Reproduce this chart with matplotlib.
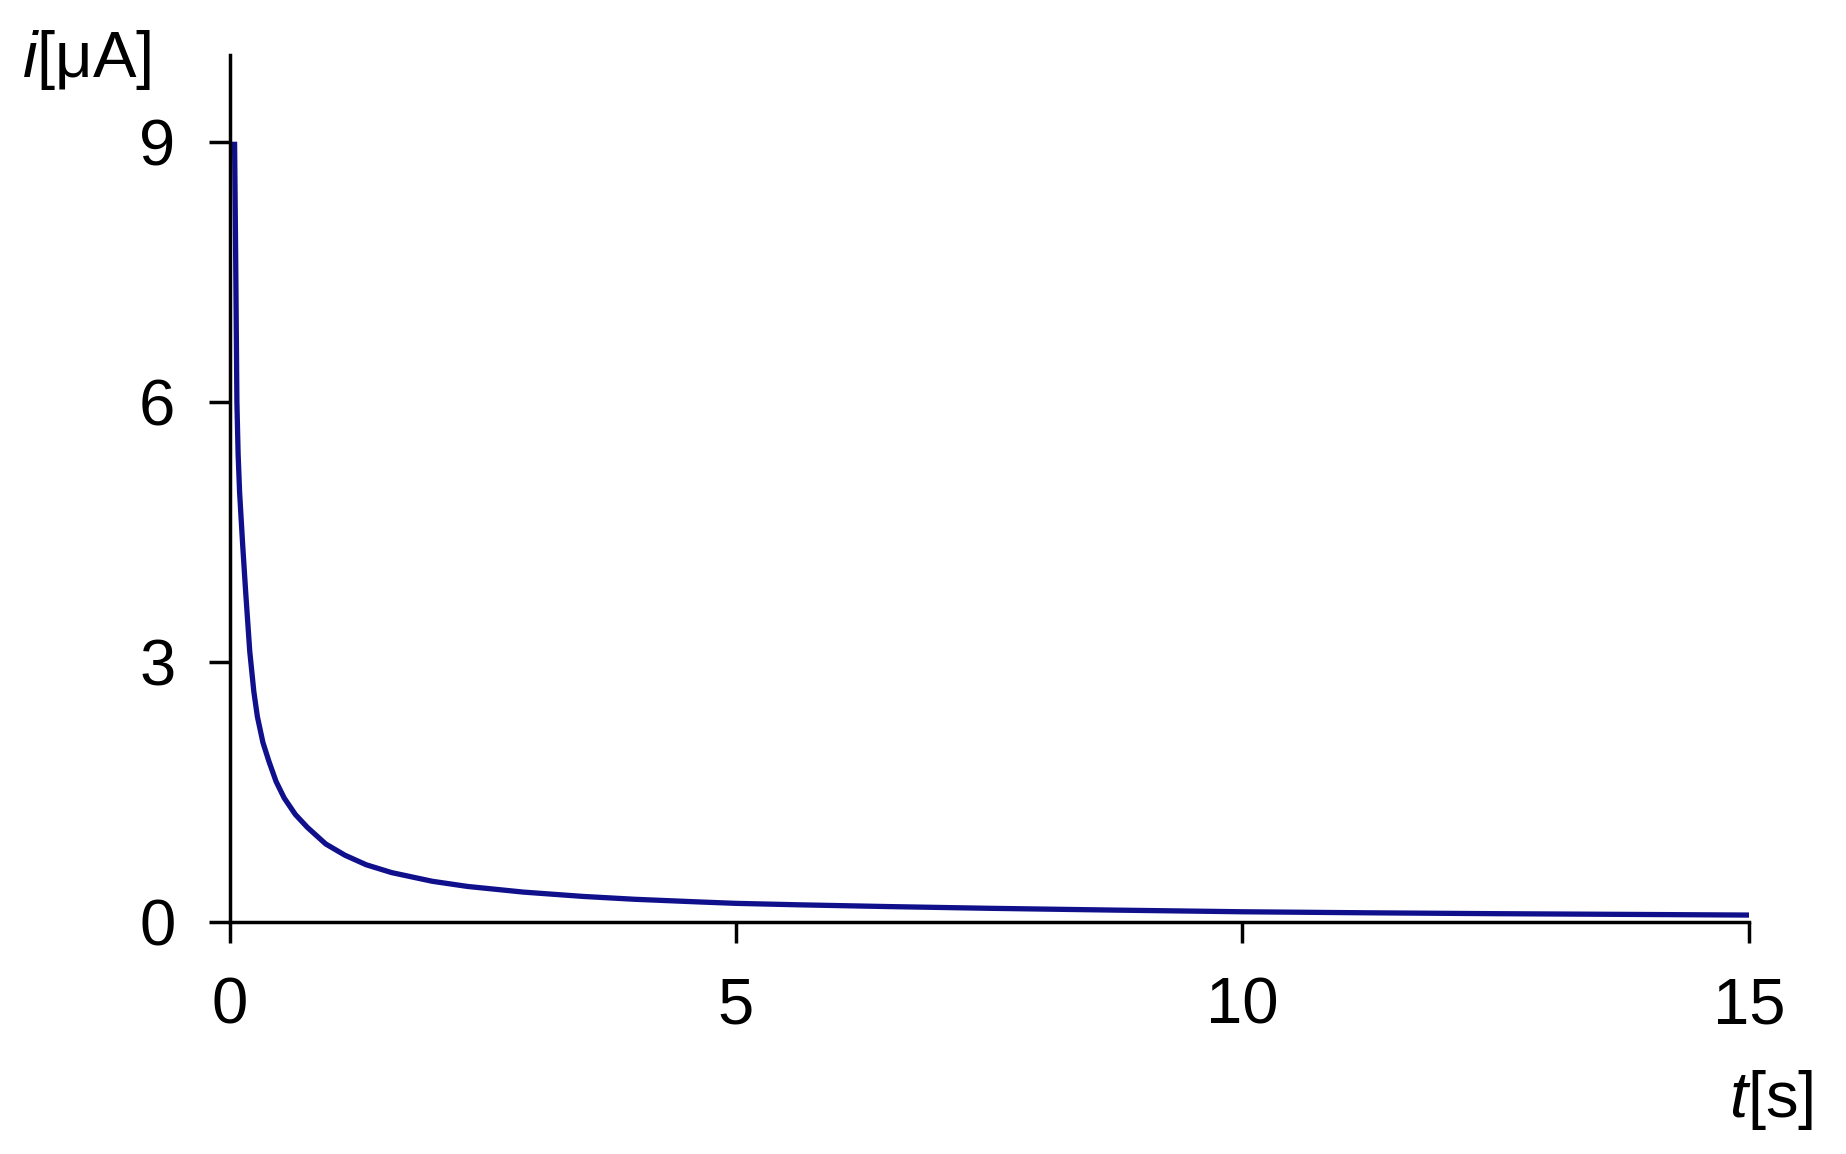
import matplotlib
matplotlib.use("Agg")
import matplotlib.pyplot as plt

plt.rcParams['font.family'] = ['Liberation Sans', 'DejaVu Sans']
plt.rcParams['mathtext.fontset'] = 'custom'
plt.rcParams['mathtext.rm'] = 'Liberation Sans'
plt.rcParams['mathtext.it'] = 'Liberation Sans:italic'

# values
t = [0.05, 0.06, 0.073, 0.085, 0.10, 0.13, 0.16, 0.20, 0.24, 0.275, 0.33, 0.39,
     0.46, 0.54, 0.65, 0.77, 0.95, 1.14, 1.35, 1.60, 2.0, 2.35, 2.9, 3.49,
     4.0, 4.62, 5.0, 5.63, 6.5, 7.5, 8.75, 10, 11.25, 12.5, 13.75, 15]
i = [9.0, 7.8, 6.0, 5.4, 4.95, 4.35, 3.8, 3.12, 2.66, 2.37, 2.07, 1.85,
     1.62, 1.43, 1.24, 1.09, 0.9, 0.77, 0.66, 0.57, 0.47, 0.41, 0.345, 0.295,
     0.262, 0.232, 0.215, 0.198, 0.178, 0.158, 0.137, 0.118, 0.106, 0.096, 0.088, 0.08]

xticks = [0, 5, 10, 15]
yticks = [0, 3, 6, 9]

fig = plt.figure(figsize=(18.46, 11.54), dpi=100)
ax = fig.add_axes([229.5/1846, 1-922/1154, (1749-229.5)/1846, (922-55)/1154])

ax.plot(t, i, color='#10108c', lw=3.8, solid_capstyle='butt', solid_joinstyle='round')

ax.set_xlim(0, 15)
ax.set_ylim(0, 10)
ax.set_xticks(xticks)
ax.set_yticks(yticks)
ax.spines['top'].set_visible(False)
ax.spines['right'].set_visible(False)
for s in ['left', 'bottom']:
    ax.spines[s].set_linewidth(2.5)
ax.tick_params(direction='out', length=15, width=2.5, labelsize=47, pad=24)

fig.text(22/1846, 1-77/1154, r'$i$[μA]', fontsize=47, ha='left', va='baseline')
fig.text(1813/1846, 1-1117/1154, r'$t$[s]', fontsize=47, ha='right', va='baseline')

fig.savefig('out.png', dpi=100, facecolor='white')
